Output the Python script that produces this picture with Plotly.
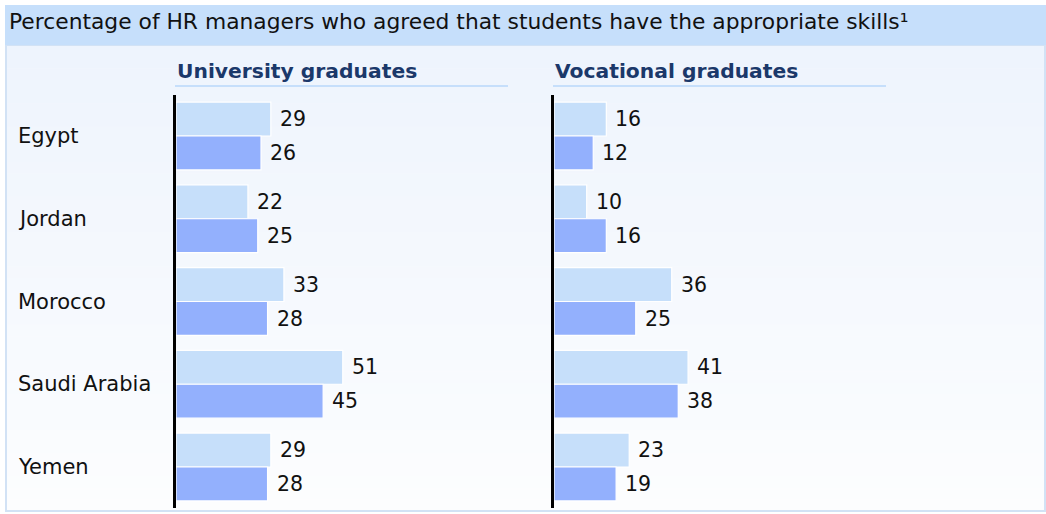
import plotly.graph_objects as go
from plotly.subplots import make_subplots

countries = ["Egypt", "Jordan", "Morocco", "Saudi Arabia", "Yemen"]
panel_titles = ["University graduates", "Vocational graduates"]
title_text = "Percentage of HR managers who agreed that students have the appropriate skills¹"

univ_light = [29, 22, 33, 51, 29]
univ_dark = [26, 25, 28, 45, 28]
voc_light = [16, 10, 36, 41, 23]
voc_dark = [12, 16, 25, 38, 19]

W, H = 1046, 514
LIGHT = "#c6dffa"
DARK = "#93b0fd"
FONT = "DejaVu Sans, Liberation Sans, Arial, sans-serif"

def px_x(p):
    return p / W

def px_y(p):
    return 1 - p / H

fig = make_subplots(rows=1, cols=2)

series = [(univ_light, univ_dark, 1), (voc_light, voc_dark, 2)]
for light, dark, col in series:
    for vals, color in ((light, LIGHT), (dark, DARK)):
        fig.add_trace(
            go.Bar(
                x=vals, y=countries, orientation="h",
                marker=dict(color=color, line=dict(color="white", width=1.2)),
                showlegend=False, hoverinfo="skip",
            ),
            row=1, col=col,
        )

# pixel geometry of the two panels
unit_px = 3.27
x_domains = [(176, 512), (554, 890)]
y_top, y_bot = 94.6, 508.4

for i, (x0, x1) in enumerate(x_domains):
    ax = "xaxis" if i == 0 else "xaxis2"
    ay = "yaxis" if i == 0 else "yaxis2"
    fig.layout[ax].update(
        domain=[px_x(x0), px_x(x1)],
        range=[0, (x1 - x0) / unit_px],
        visible=False, fixedrange=True,
    )
    fig.layout[ay].update(
        domain=[px_y(y_bot), px_y(y_top)],
        type="category", categoryarray=countries, categoryorder="array",
        autorange="reversed", showticklabels=False, showgrid=False,
        zeroline=False, ticks="", showline=True, linecolor="black",
        linewidth=3,
    )

annotations = []
value_font = dict(size=20.5, color="#111", family=FONT)
name_font = dict(size=21, color="#111", family=FONT)
# value labels beside each bar
for (light, dark, col) in series:
    xr = "x" if col == 1 else "x2"
    yr = "y" if col == 1 else "y2"
    for c, v in zip(countries, light):
        annotations.append(dict(x=v, y=c, xref=xr, yref=yr, text=str(v),
                                xanchor="left", yanchor="middle", xshift=7, yshift=17,
                                showarrow=False, font=value_font))
    for c, v in zip(countries, dark):
        annotations.append(dict(x=v, y=c, xref=xr, yref=yr, text=str(v),
                                xanchor="left", yanchor="middle", xshift=7, yshift=-17,
                                showarrow=False, font=value_font))

# country names on the left
for c in countries:
    annotations.append(dict(x=px_x(16), y=c, xref="paper", yref="y", text=c,
                            xanchor="left", yanchor="middle", showarrow=False,
                            font=name_font))

# panel headings
for (x0, x1), t in zip(x_domains, panel_titles):
    annotations.append(dict(x=px_x(x0 - 1), y=px_y(71), xref="paper", yref="paper",
                            text="<b>" + t + "</b>", xanchor="left", yanchor="middle",
                            showarrow=False, font=dict(size=20.3, color="#1b386a", family=FONT)))

annotations.append(dict(x=px_x(7), y=px_y(22), xref="paper", yref="paper",
                        text=title_text, xanchor="left", yanchor="middle",
                        showarrow=False, font=dict(size=21.8, color="#111", family=FONT)))

shapes = []
# panel background with a soft vertical gradient
top_c = (238, 244, 253)
bot_c = (252, 253, 254)
p_top, p_bot = 45, 511
steps = 40
for k in range(steps):
    t = k / (steps - 1)
    col = tuple(round(a + (b - a) * t) for a, b in zip(top_c, bot_c))
    ya = p_top + (p_bot - p_top) * k / steps
    yb = p_top + (p_bot - p_top) * (k + 1) / steps + 0.5
    shapes.append(dict(type="rect", xref="paper", yref="paper",
                       x0=px_x(6), x1=px_x(1046), y0=px_y(yb), y1=px_y(ya),
                       fillcolor="rgb(%d,%d,%d)" % col, line=dict(width=0), layer="below"))
# panel border
shapes.append(dict(type="rect", xref="paper", yref="paper",
                   x0=px_x(6), x1=px_x(1045), y0=px_y(511), y1=px_y(45),
                   fillcolor="rgba(0,0,0,0)", line=dict(color="#d2e2f5", width=2), layer="below"))
# header band
shapes.append(dict(type="rect", xref="paper", yref="paper",
                   x0=px_x(5), x1=px_x(1046), y0=px_y(45), y1=px_y(5),
                   fillcolor="#c6dffb", line=dict(width=0), layer="below"))
# heading underlines
for (x0, x1), end in zip(x_domains, (508, 886)):
    shapes.append(dict(type="line", xref="paper", yref="paper",
                       x0=px_x(x0 - 1), x1=px_x(end), y0=px_y(86), y1=px_y(86),
                       line=dict(color="#c6dffb", width=2)))

fig.update_layout(
    width=W, height=H,
    margin=dict(l=0, r=0, t=0, b=0),
    paper_bgcolor="white", plot_bgcolor="rgba(0,0,0,0)",
    barmode="group", bargap=0.18, bargroupgap=0.0,
    annotations=annotations, shapes=shapes,
    font=dict(family=FONT),
)

fig.write_html("out.html")
